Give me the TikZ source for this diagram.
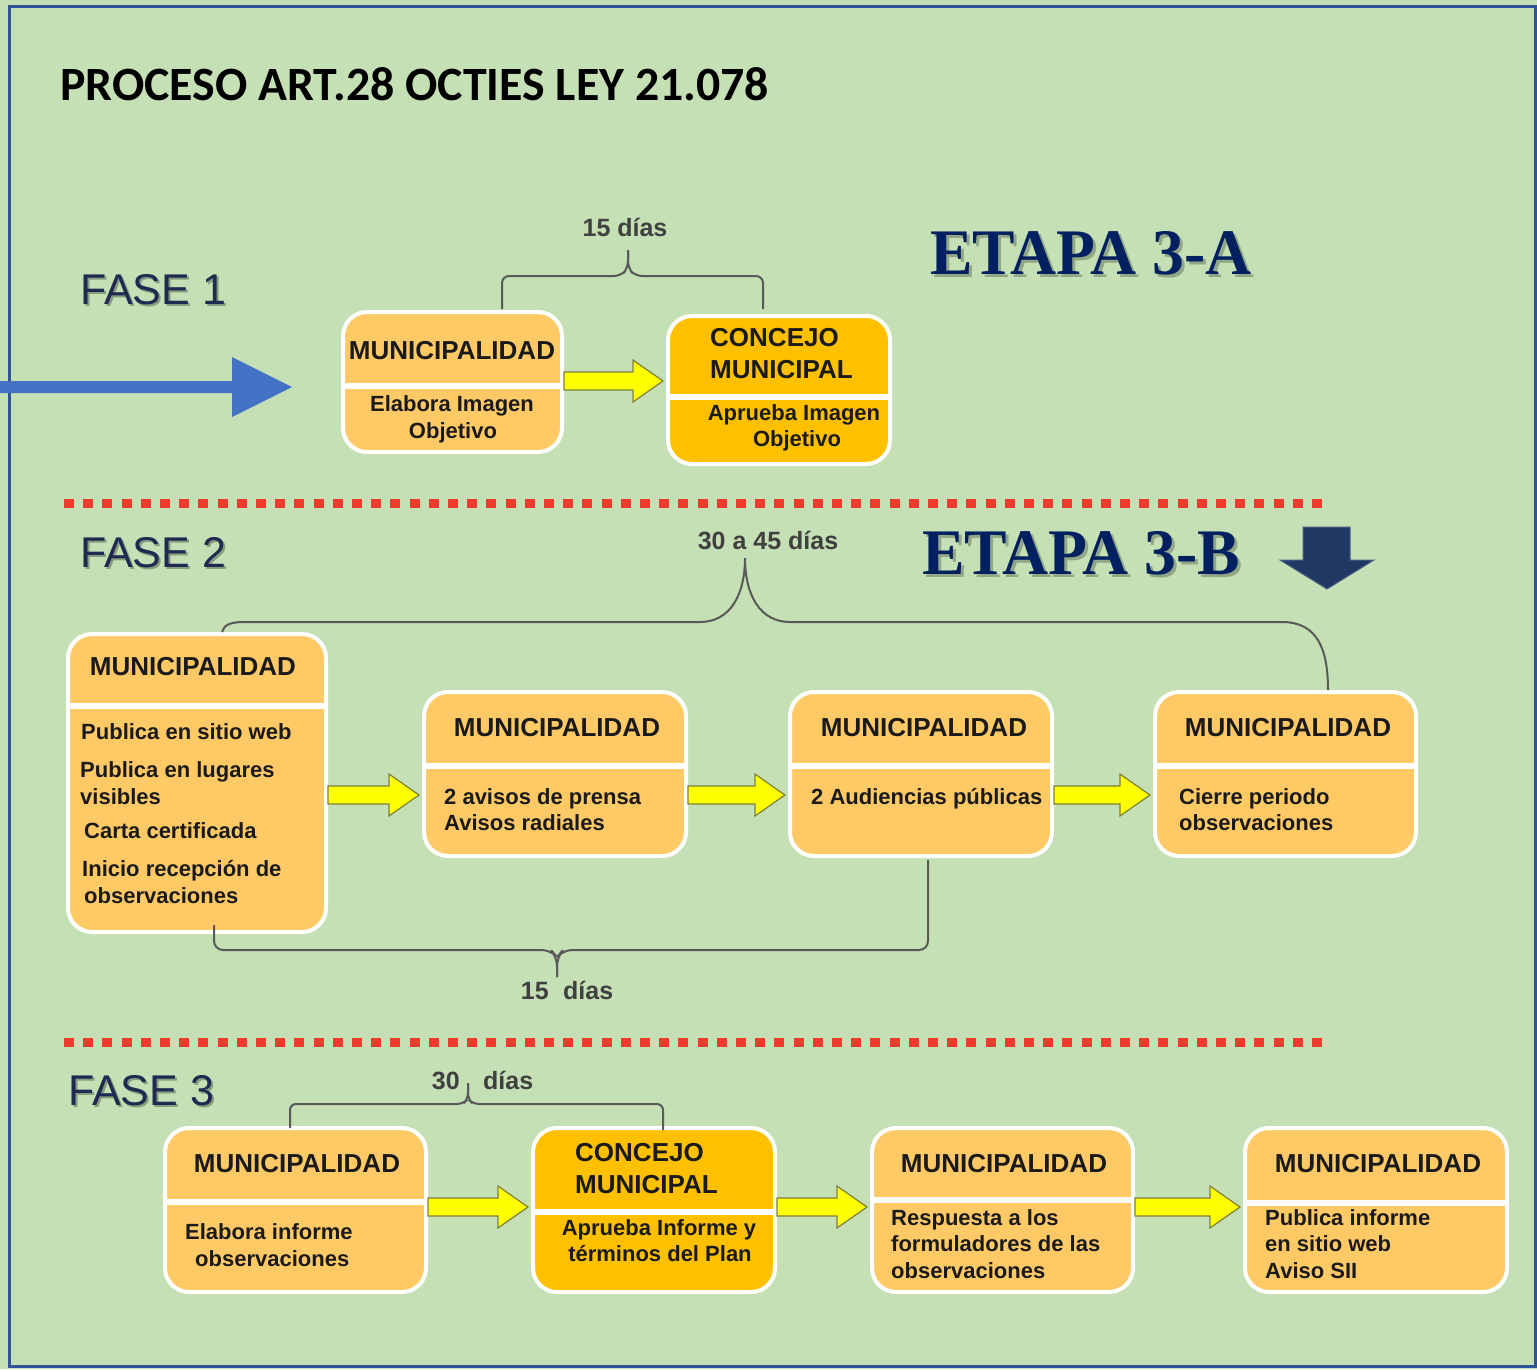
\documentclass[tikz,border=0pt]{standalone}
\usepackage{fontspec}
\setmainfont{Liberation Sans}
\newfontfamily\calib{Carlito}
\newfontfamily\timesb{Liberation Serif}[FakeStretch=0.98]
\usetikzlibrary{calc}
\definecolor{bgc}{HTML}{C5E0B4}
\definecolor{framec}{HTML}{2F5597}
\definecolor{boxlc}{HTML}{FFCA66}
\definecolor{boxdc}{HTML}{FFC000}
\definecolor{yarc}{HTML}{FFFF00}
\definecolor{yarlc}{HTML}{7F7F40}
\definecolor{navyc}{HTML}{002060}
\definecolor{fasec}{HTML}{1F2A52}
\definecolor{bracec}{HTML}{595959}
\definecolor{labc}{HTML}{404040}
\definecolor{arrbluec}{HTML}{4472C4}
\definecolor{darrc}{HTML}{203864}
\definecolor{dotc}{HTML}{EE3B2B}
\definecolor{txtc}{HTML}{1A1A1A}
\tikzset{
  lbox/.style={draw=white, line width=4pt, fill=boxlc, rounded corners=24pt, inner sep=0pt},
  dbox/.style={lbox, fill=boxdc},
  divline/.style={white, line width=6pt},
  hd/.style={font=\bfseries\fontsize{26}{30}\selectfont, text=txtc, inner sep=0pt, anchor=center},
  hdl/.style={hd, anchor=west},
  bd/.style={font=\bfseries\fontsize{22}{26}\selectfont, text=txtc, inner sep=0pt, anchor=mid, yshift=-5pt},
  bdl/.style={bd, anchor=mid west},
  yarst/.style={fill=yarc, draw=yarlc, line width=1.2pt, line join=miter},
  bracest/.style={draw=bracec, line width=2pt},
  lab/.style={font=\bfseries\fontsize{25}{30}\selectfont, text=labc, inner sep=0pt, yshift=-4pt},
  fasest/.style={font=\fontsize{43}{50}\selectfont, text=fasec, inner sep=0pt, anchor=west},
  fasesh/.style={fasest, text=black, opacity=0.3},
  etapast/.style={font=\timesb\bfseries\fontsize{65}{70}\selectfont, text=navyc, inner sep=0pt, anchor=west},
  etapash/.style={etapast, text=black, opacity=0.25},
  dotline/.style={dotc, line width=9pt, dash pattern=on 10pt off 9.2pt},
}
\newcommand\ybarrow[3]{%
  \coordinate (ys) at (#1.east |- 0,#3);
  \coordinate (ye) at (#2.west |- 0,#3);
  \filldraw[yarst] ([yshift=9pt]ys) -- ([xshift=-33pt,yshift=9pt]ye) -- ([xshift=-33pt,yshift=21pt]ye)
    -- ([xshift=-3pt]ye) -- ([xshift=-33pt,yshift=-21pt]ye) -- ([xshift=-33pt,yshift=-9pt]ye)
    -- ([yshift=-9pt]ys) -- cycle;}
\begin{document}
\begin{tikzpicture}[x=1pt,y=-1pt]
\useasboundingbox (0,0) rectangle (1537,1369);
\fill[bgc] (0,0) rectangle (1537,1369);
\draw[framec, line width=3pt] (9,6) rectangle (1535,1366);

% title
\node[font=\calib\bfseries\fontsize{47.8}{52}\selectfont, text=black, inner sep=0pt, anchor=west] (title) at (60,84) {PROCESO ART.28 OCTIES LEY 21.078};

% ===== FASE 1 =====
\node[fasesh] (f1sh) at (82,292) {FASE 1};
\node[fasest] (f1lab) at (80,290) {FASE 1};
\node[etapash] (e1sh) at (933,256) {ETAPA 3-A};
\node[etapast] (e1) at (930,253) {ETAPA 3-A};

\coordinate (bs) at (0,387);
\coordinate (bt) at (292,387);
\fill[arrbluec] ([yshift=6pt]bs) -- ([xshift=-60pt,yshift=6pt]bt) -- ([xshift=-60pt,yshift=30pt]bt) -- (bt)
  -- ([xshift=-60pt,yshift=-30pt]bt) -- ([xshift=-60pt,yshift=-6pt]bt) -- ([yshift=-6pt]bs) -- cycle;

\node[lbox, minimum width=219pt, minimum height=140pt] (f1a) at (452.5,382) {};
\draw[divline] (f1a.west |- 0,386) -- (f1a.east |- 0,386);
\node[hd] (f1ah) at (452,351) {MUNICIPALIDAD};
\node[bd] (f1a1) at (452,404) {Elabora Imagen};
\node[bd] (f1a2) at (453,431) {Objetivo};

\node[dbox, minimum width=222pt, minimum height=148pt] (f1b) at (779,390) {};
\draw[divline] (f1b.west |- 0,397) -- (f1b.east |- 0,397);
\node[hdl] (f1bh1) at (710,338) {CONCEJO};
\node[hdl] (f1bh2) at (710,370) {MUNICIPAL};
\node[bd] (f1b1) at (794,413) {Aprueba Imagen};
\node[bd] (f1b2) at (797,439) {Objetivo};

\ybarrow{f1a}{f1b}{381}

\coordinate (b1l) at (502,309);
\coordinate (b1t) at (628,250);
\coordinate (b1r) at (763,309);
\draw[bracest, rounded corners=7pt] (b1l) -- (502,276) -- (621,276) -- (628,268) -- (b1t);
\draw[bracest, rounded corners=7pt] (b1t) -- (628,268) -- (635,276) -- (763,276) -- (b1r);
\node[lab, anchor=mid] (l1) at (625,230) {15 días};

% ===== FASE 2 =====
\coordinate (d1s) at (64,503);
\coordinate (d1e) at (1328,503);
\draw[dotline] (d1s) -- (d1e);

\node[fasesh] (f2sh) at (82,555) {FASE 2};
\node[fasest] (f2lab) at (80,553) {FASE 2};
\node[etapash] (e2sh) at (925,556) {ETAPA 3-B};
\node[etapast] (e2) at (922,553) {ETAPA 3-B};
\filldraw[fill=darrc, draw=darrc!80!white, line width=1pt] (1303,527) -- (1350,527) -- (1350,560) -- (1374,560) -- (1327,589) -- (1280,560) -- (1303,560) -- cycle;

\node[lab, anchor=mid] (l2) at (768,543) {30 a 45 días};

\node[lbox, minimum width=258pt, minimum height=298pt] (f2a) at (197,783) {};
\draw[divline] (f2a.west |- 0,706) -- (f2a.east |- 0,706);
\node[hd] (f2ah) at (193,667) {MUNICIPALIDAD};
\node[bdl] (f2a1) at (81,732) {Publica en sitio web};
\node[bdl] (f2a2) at (80,770) {Publica en lugares};
\node[bdl] (f2a3) at (80,797) {visibles};
\node[bdl] (f2a4) at (84,831) {Carta certificada};
\node[bdl] (f2a5) at (82,869) {Inicio recepción de};
\node[bdl] (f2a6) at (84,896) {observaciones};

\node[lbox, minimum width=262pt, minimum height=164pt] (f2b) at (555,774) {};
\draw[divline] (f2b.west |- 0,766) -- (f2b.east |- 0,766);
\node[hd] (f2bh) at (557,728) {MUNICIPALIDAD};
\node[bdl] (f2b1) at (444,797) {2 avisos de prensa};
\node[bdl] (f2b2) at (444,823) {Avisos radiales};

\node[lbox, minimum width=262pt, minimum height=164pt] (f2c) at (921,774) {};
\draw[divline] (f2c.west |- 0,766) -- (f2c.east |- 0,766);
\node[hd] (f2ch) at (924,728) {MUNICIPALIDAD};
\node[bdl] (f2c1) at (811,797) {2 Audiencias públicas};

\node[lbox, minimum width=261pt, minimum height=164pt] (f2d) at (1285.5,774) {};
\draw[divline] (f2d.west |- 0,766) -- (f2d.east |- 0,766);
\node[hd] (f2dh) at (1288,728) {MUNICIPALIDAD};
\node[bdl] (f2d1) at (1179,797) {Cierre periodo};
\node[bdl] (f2d2) at (1179,823) {observaciones};

\ybarrow{f2a}{f2b}{795}
\ybarrow{f2b}{f2c}{795}
\ybarrow{f2c}{f2d}{795}

\coordinate (b2l) at (222,632);
\coordinate (b2t) at (745,558);
\coordinate (b2r) at (1328,690);
\draw[bracest] (b2l) .. controls (224,625) and (230,622) .. (244,622) -- (700,622) .. controls (730,622) and (745,595) .. (b2t);
\draw[bracest] (b2t) .. controls (745,595) and (760,622) .. (790,622) -- (1282,622) .. controls (1318,622) and (1328,650) .. (b2r);

\coordinate (b3l) at (214,925);
\coordinate (b3t) at (557,977);
\coordinate (b3r) at (928,860);
\draw[bracest, rounded corners=9pt] (b3l) -- (214,950) -- (551,950) -- (557,957) -- (b3t);
\draw[bracest, rounded corners=9pt] (b3t) -- (557,957) -- (563,950) -- (928,950) -- (b3r);
\node[lab, anchor=mid east] (l3a) at (549,993) {15};
\node[lab, anchor=mid west] (l3b) at (563,993) {días};

% ===== FASE 3 =====
\coordinate (d2s) at (64,1042);
\coordinate (d2e) at (1328,1042);
\draw[dotline] (d2s) -- (d2e);

\node[fasesh] (f3sh) at (70,1093) {FASE 3};
\node[fasest] (f3lab) at (68,1091) {FASE 3};

\node[lbox, minimum width=261pt, minimum height=164pt] (f3a) at (295.5,1210) {};
\draw[divline] (f3a.west |- 0,1202) -- (f3a.east |- 0,1202);
\node[hd] (f3ah) at (297,1164) {MUNICIPALIDAD};
\node[bdl] (f3a1) at (185,1232) {Elabora informe};
\node[bdl] (f3a2) at (195,1259) {observaciones};

\node[dbox, minimum width=242pt, minimum height=164pt] (f3b) at (654,1210) {};
\draw[divline] (f3b.west |- 0,1212) -- (f3b.east |- 0,1212);
\node[hdl] (f3bh1) at (575,1153) {CONCEJO};
\node[hdl] (f3bh2) at (575,1185) {MUNICIPAL};
\node[bd] (f3b1) at (659,1228) {Aprueba Informe y};
\node[bd] (f3b2) at (660,1254) {términos del Plan};

\node[lbox, minimum width=261pt, minimum height=164pt] (f3c) at (1002.5,1210) {};
\draw[divline] (f3c.west |- 0,1200) -- (f3c.east |- 0,1200);
\node[hd] (f3ch) at (1004,1164) {MUNICIPALIDAD};
\node[bdl] (f3c1) at (891,1218) {Respuesta a los};
\node[bdl] (f3c2) at (891,1244) {formuladores de las};
\node[bdl] (f3c3) at (891,1271) {observaciones};

\node[lbox, minimum width=262pt, minimum height=164pt] (f3d) at (1376,1210) {};
\draw[divline] (f3d.west |- 0,1203) -- (f3d.east |- 0,1203);
\node[hd] (f3dh) at (1378,1164) {MUNICIPALIDAD};
\node[bdl] (f3d1) at (1265,1218) {Publica informe};
\node[bdl] (f3d2) at (1265,1244) {en sitio web};
\node[bdl] (f3d3) at (1265,1271) {Aviso SII};

\ybarrow{f3a}{f3b}{1207}
\ybarrow{f3b}{f3c}{1207}
\ybarrow{f3c}{f3d}{1207}

\coordinate (b4l) at (290,1128);
\coordinate (b4t) at (468,1083);
\coordinate (b4r) at (663,1130);
\draw[bracest, rounded corners=6pt] (b4l) -- (290,1104) -- (463,1104) -- (468,1099) -- (b4t);
\draw[bracest, rounded corners=6pt] (b4t) -- (468,1099) -- (473,1104) -- (663,1104) -- (b4r);
\node[lab, anchor=mid east] (l4a) at (460,1083) {30};
\node[lab, anchor=mid west] (l4b) at (483,1083) {días};
\end{tikzpicture}
\end{document}
